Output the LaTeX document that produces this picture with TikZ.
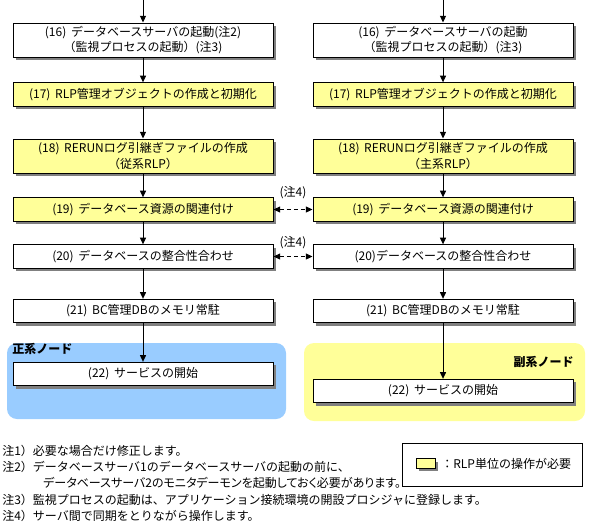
\documentclass[tikz,border=0pt]{standalone}
\usepackage{fontspec}
\newfontfamily\jp{Noto Sans CJK JP}
\newfontfamily\jpp[RawFeature=+palt]{Noto Sans CJK JP}
\usetikzlibrary{arrows.meta,shadows}
\definecolor{boxyellow}{HTML}{FFFF99}
\definecolor{regblue}{HTML}{99CCFF}
\definecolor{regyellow}{HTML}{FFFF99}
\newcommand\mystep[1]{(#1)\hspace{3.5pt}}
\begin{document}
\begin{tikzpicture}[x=0.75pt,y=-0.75pt,
  font=\jp\fontsize{9}{11.5}\selectfont,
  shad/.style={drop shadow={shadow xshift=2.25pt,shadow yshift=-2.25pt,fill=black!50,opacity=1}},
  stepbox/.style={draw=black,line width=0.75pt,fill=white,minimum width=195pt,inner sep=0pt,align=center,shad},
  rlpbox/.style={stepbox,fill=boxyellow},
  tall/.style={minimum height=25.5pt},
  short/.style={minimum height=17.5pt},
  arr/.style={line width=0.75pt,-{Triangle[width=4.5pt,length=5pt]}},
  darr/.style={line width=0.75pt,dash pattern=on 3pt off 2.25pt,{Triangle[width=4.5pt,length=5pt]}-{Triangle[width=4.5pt,length=5pt]}},
  region/.style={rounded corners=7.5pt,draw=none},
  note/.style={anchor=west,inner sep=0pt},
  nodelabel/.style={inner sep=0pt,font=\jp\bfseries\fontsize{9}{11}\selectfont}
]
\useasboundingbox (0,0) rectangle (591,525);
% regions
\fill[region,regblue] (7,343) rectangle (286,419);
\fill[region,regyellow] (304,343) rectangle (585,421);
\node[nodelabel,anchor=west] (lblL) at (12,349) {正系ノード};
\node[nodelabel,anchor=east] (lblR) at (574,362) {副系ノード};
% top coordinates
\coordinate (topL) at (143,0);
\coordinate (topR) at (443,0);
% left column
\node[stepbox,tall] (L16) at (143,40) {\mystep{16}データベースサーバの起動(注2)\\（監視プロセスの起動）(注3)};
\node[rlpbox,short] (L17) at (143,94.5) {\mystep{17}RLP管理オブジェクトの作成と初期化};
\node[rlpbox,tall] (L18) at (143,156) {\mystep{18}RERUNログ引継ぎファイルの作成\\（従系RLP）};
\node[rlpbox,short] (L19) at (143,209.5) {\mystep{19}データベース資源の関連付け};
\node[stepbox,short] (L20) at (143,256.5) {\mystep{20}データベースの整合性合わせ};
\node[stepbox,short] (L21) at (143,311) {\mystep{21}BC管理DBのメモリ常駐};
\node[stepbox,short] (L22) at (143,374) {\mystep{22}サービスの開始};
% right column
\node[stepbox,tall] (R16) at (443,40) {\mystep{16}データベースサーバの起動\\（監視プロセスの起動）(注3)};
\node[rlpbox,short] (R17) at (443,94.5) {\mystep{17}RLP管理オブジェクトの作成と初期化};
\node[rlpbox,tall] (R18) at (443,156) {\mystep{18}RERUNログ引継ぎファイルの作成\\（主系RLP）};
\node[rlpbox,short] (R19) at (443,209.5) {\mystep{19}データベース資源の関連付け};
\node[stepbox,short] (R20) at (443,256.5) {(20)データベースの整合性合わせ};
\node[stepbox,short] (R21) at (443,311) {\mystep{21}BC管理DBのメモリ常駐};
\node[stepbox,short] (R22) at (443,391) {\mystep{22}サービスの開始};
% arrows
\draw[arr] (topL) -- (L16);
\draw[arr] (L16) -- (L17);
\draw[arr] (L17) -- (L18);
\draw[arr] (L18) -- (L19);
\draw[arr] (L19) -- (L20);
\draw[arr] (L20) -- (L21);
\draw[arr] (L21) -- (L22);
\draw[arr] (topR) -- (R16);
\draw[arr] (R16) -- (R17);
\draw[arr] (R17) -- (R18);
\draw[arr] (R18) -- (R19);
\draw[arr] (R19) -- (R20);
\draw[arr] (R20) -- (R21);
\draw[arr] (R21) -- (R22);
% sync arrows
\draw[darr] (L19.east) -- (R19.west);
\draw[darr] (L20.east) -- (R20.west);
\node[inner sep=0pt] (n4a) at (293,193) {(注4)};
\node[inner sep=0pt] (n4b) at (293,243) {(注4)};
% notes
\node[note] (note1) at (2,451) {注1）必要な場合だけ修正します。};
\node[note] (note2) at (2,467) {注2）データベースサーバ1のデータベースサーバの起動の前に、};
\node[note,font=\jpp\fontsize{9}{11.5}\selectfont] (note2b) at (43,483) {データベースサーバ2のモニタデーモンを起動しておく必要があります。};
\node[note] (note3) at (2,500) {注3）監視プロセスの起動は、アプリケーション接続環境の開設プロシジャに登録します。};
\node[note] (note4) at (2,516) {注4）サーバ間で同期をとりながら操作します。};
% legend
\node[draw=black,line width=0.75pt,fill=white,minimum width=135pt,minimum height=32.25pt,inner sep=0pt] (legend) at (492,464.5) {};
\node[draw=black,line width=0.75pt,fill=boxyellow,minimum width=14.25pt,minimum height=7pt,inner sep=0pt,shad] (swatch) at (425.5,463.5) {};
\node[anchor=west,inner sep=0pt] (legtext) at (441,463.5) {：RLP単位の操作が必要};
\end{tikzpicture}
\end{document}
